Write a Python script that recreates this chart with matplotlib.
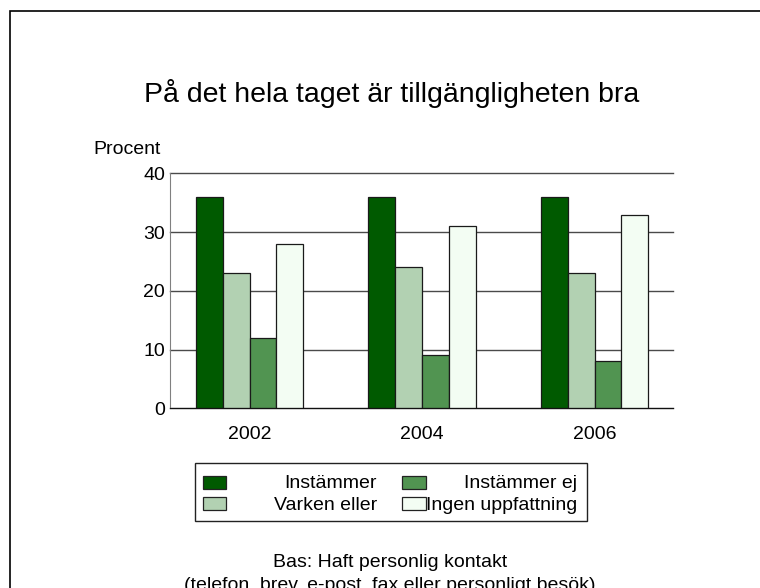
import matplotlib
matplotlib.use('Agg')
import matplotlib.pyplot as plt
from matplotlib.patches import Rectangle
import numpy as np

plt.rcParams['font.family'] = ['Liberation Sans', 'DejaVu Sans']

years = ['2002', '2004', '2006']
series = ['Instämmer', 'Varken eller', 'Instämmer ej', 'Ingen uppfattning']
values = {
    'Instämmer': [36, 36, 36],
    'Varken eller': [23, 24, 23],
    'Instämmer ej': [12, 9, 8],
    'Ingen uppfattning': [28, 31, 33],
}
colors = ['#005a00', '#b2d1b2', '#519451', '#f3fdf3']

W, H = 760, 588


def fx(x):
    return x / W


def fy(y):
    return (H - y) / H


fig = plt.figure(figsize=(7.6, 5.88), dpi=100)
ax = fig.add_axes([fx(170), fy(408.3), fx(673) - fx(170), fy(173.5) - fy(408.3)])

x = np.arange(len(years))
width = 0.156
for i, name in enumerate(series):
    ax.bar(x + (i - 1.5) * width, values[name], width, color=colors[i],
           edgecolor='#1a1a1a', linewidth=0.9, zorder=3)

ax.set_xlim(-0.461, 2.455)
ax.set_ylim(0, 40)
ax.set_yticks([0, 10, 20, 30, 40])
ax.set_xticks(x)
ax.set_xticklabels(years)
ax.tick_params(axis='both', length=0, labelsize=14)
ax.tick_params(axis='y', pad=3.5)
ax.tick_params(axis='x', pad=13)
ax.yaxis.grid(True, color='#4a4a4a', linewidth=1, zorder=1)
for line in ax.get_ygridlines():
    line.set_clip_on(False)
for s in ['top', 'right']:
    ax.spines[s].set_visible(False)
ax.spines['left'].set_color('#808080')
ax.spines['bottom'].set_color('#111111')
ax.spines['bottom'].set_zorder(4)

fig.text(fx(391.5), fy(102), 'På det hela taget är tillgängligheten bra',
         ha='center', va='baseline', fontsize=20.5)
fig.text(fx(93), fy(154), 'Procent', ha='left', va='baseline', fontsize=14)

# legend drawn by hand so that labels are right aligned like the original
fig.patches.append(Rectangle((fx(195), fy(521)), fx(587) - fx(195), fy(463) - fy(521),
                             transform=fig.transFigure, facecolor='white',
                             edgecolor='#222222', linewidth=1))
leg_cols = [(203, 226, 377), (402, 426, 577)]
leg_rows = [(476, 489, 488), (497, 510, 510.5)]
for i, name in enumerate(series):
    col, row = divmod(i, 2)
    x0, x1, tx = leg_cols[col]
    y0, y1, ty = leg_rows[row]
    fig.patches.append(Rectangle((fx(x0), fy(y1)), fx(x1) - fx(x0), fy(y0) - fy(y1),
                                 transform=fig.transFigure, facecolor=colors[i],
                                 edgecolor='#222222', linewidth=0.9))
    fig.text(fx(tx), fy(ty), name, ha='right', va='baseline', fontsize=14)

fig.text(fx(390), fy(567), 'Bas: Haft personlig kontakt',
         ha='center', va='baseline', fontsize=14)
fig.text(fx(390), fy(590), '(telefon, brev, e-post, fax eller personligt besök)',
         ha='center', va='baseline', fontsize=14)

# outer frame, running off the right and bottom edges
fig.patches.append(Rectangle((fx(10), fy(600)), fx(800) - fx(10), fy(11) - fy(600),
                             transform=fig.transFigure, fill=False,
                             edgecolor='black', linewidth=1.2))

fig.savefig('out.png', dpi=100)
